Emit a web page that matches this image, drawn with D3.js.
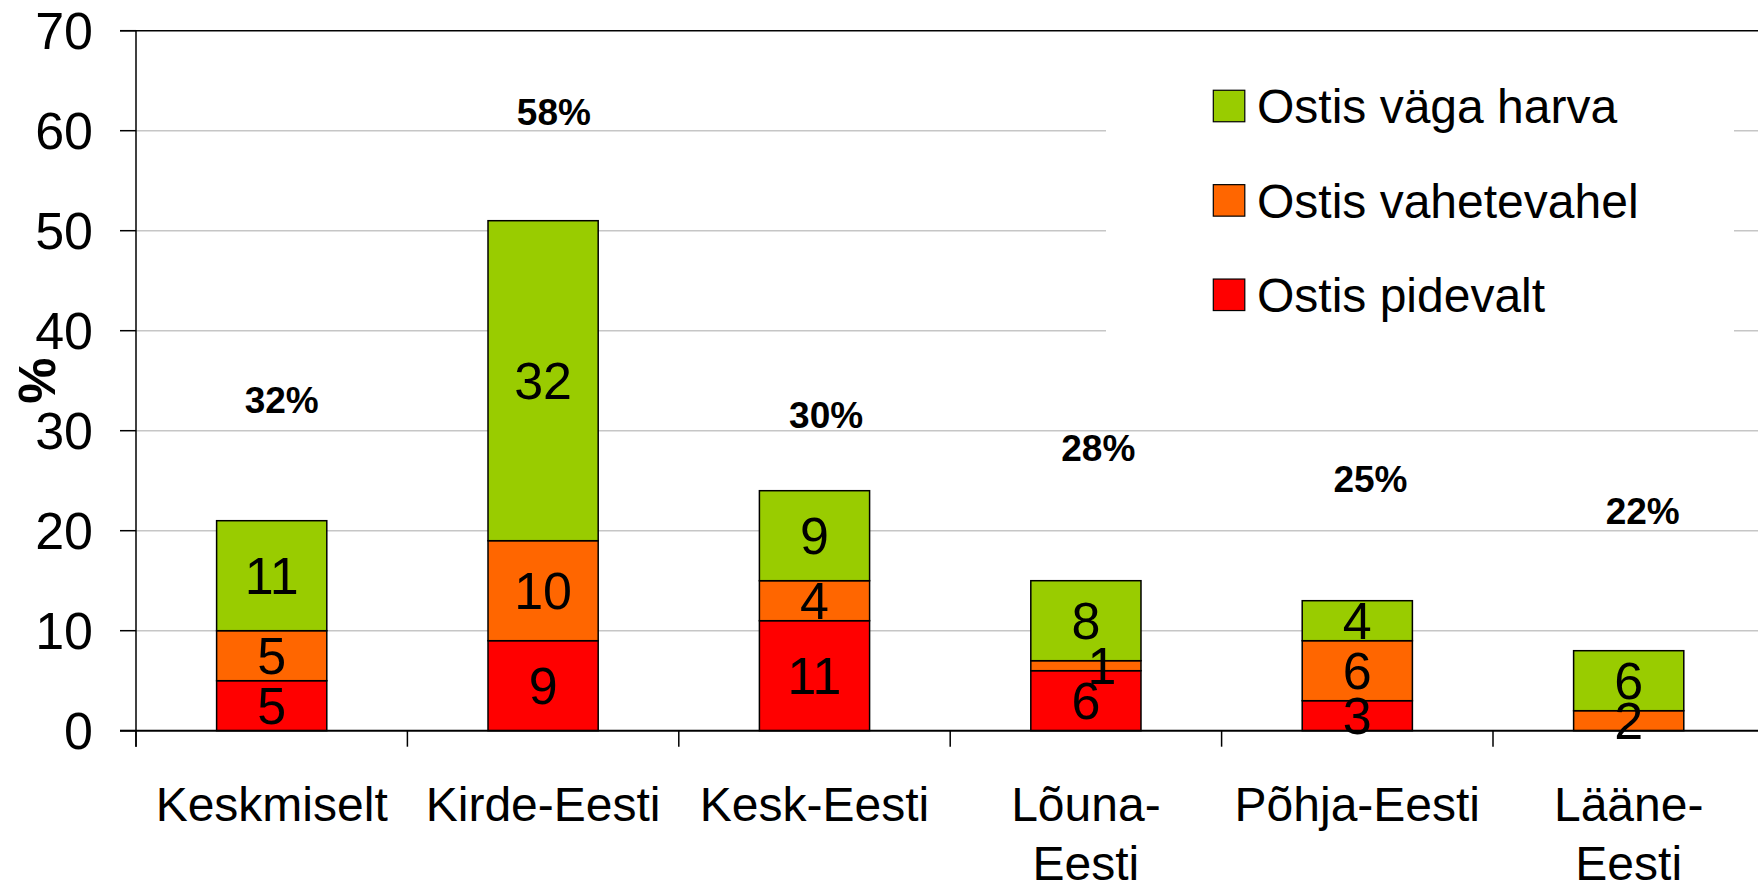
<!DOCTYPE html>
<html>
<head>
<meta charset="utf-8">
<script src="https://cdn.jsdelivr.net/npm/d3@7"></script>
<style>
  html, body { margin: 0; padding: 0; background: #fff; }
  svg { display: block; font-family: "Liberation Sans", Arial, sans-serif; }
</style>
</head>
<body>
<svg id="chart" width="1758" height="884"></svg>
<script>
// ---- data ----
const categories = ["Keskmiselt", "Kirde-Eesti", "Kesk-Eesti", "Lõuna-Eesti", "Põhja-Eesti", "Lääne-Eesti"];
const categoryLabels = [["Keskmiselt"], ["Kirde-Eesti"], ["Kesk-Eesti"], ["Lõuna-", "Eesti"], ["Põhja-Eesti"], ["Lääne-", "Eesti"]];
const seriesNames = ["Ostis pidevalt", "Ostis vahetevahel", "Ostis väga harva"];
const pidevalt   = [5, 9, 11, 6, 3, 0];
const vahetevahel = [5, 10, 4, 1, 6, 2];
const vagaHarva  = [11, 32, 9, 8, 4, 6];
const totalPct   = ["32%", "58%", "30%", "28%", "25%", "22%"];
const totalPctPos = [33.1, 61.9, 31.6, 28.3, 25.2, 21.95]; // label heights in axis units
const yTicks = [0, 10, 20, 30, 40, 50, 60, 70];
const colors = ["#ff0000", "#ff6600", "#99cc00"];

// ---- layout ----
const svg = d3.select("#chart");
const plotLeft = 136, plotTop = 30.7, plotBottom = 730.7, bandStep = 271.4;
const x = d3.scaleBand().domain(categories)
  .range([plotLeft, plotLeft + bandStep * categories.length])
  .paddingInner(0.594).paddingOuter(0.297);
const y = d3.scaleLinear().domain([0, 70]).range([plotBottom, plotTop]);

const rows = categories.map((c, i) => ({cat: c, s0: pidevalt[i], s1: vahetevahel[i], s2: vagaHarva[i]}));
const stacked = d3.stack().keys(["s0", "s1", "s2"])(rows);

// gridlines
svg.append("g").selectAll("line").data(yTicks.filter(t => t > 0 && t < 70)).join("line")
  .attr("x1", plotLeft).attr("x2", 1758)
  .attr("y1", d => y(d)).attr("y2", d => y(d))
  .attr("stroke", "#c6c6c6").attr("stroke-width", 1.5);

// legend background (covers gridlines)
const legX = 1106, legW = 628;
svg.append("rect").attr("x", legX).attr("y", 42).attr("width", legW).attr("height", 318).attr("fill", "#fff");

// top border
svg.append("line").attr("x1", plotLeft - 16).attr("x2", 1758).attr("y1", y(70)).attr("y2", y(70))
  .attr("stroke", "#000").attr("stroke-width", 1.5);

// bars
const segs = svg.append("g");
stacked.forEach((layer, si) => {
  segs.append("g").selectAll("rect").data(layer).join("rect")
    .attr("x", d => x(d.data.cat))
    .attr("width", x.bandwidth())
    .attr("y", d => y(d[1]))
    .attr("height", d => y(d[0]) - y(d[1]))
    .attr("fill", colors[si])
    .attr("stroke", d => (d[1] - d[0]) > 0 ? "#000" : "none")
    .attr("stroke-width", 1.5);
});

// value labels
const valFont = 52;
stacked.forEach((layer) => {
  segs.append("g").selectAll("text").data(layer.filter(d => d[1] - d[0] > 0)).join("text")
    .attr("x", d => x(d.data.cat) + x.bandwidth() / 2 + ((y(d[0]) - y(d[1])) < 15 ? 16 : 0))
    .attr("y", d => (y(d[0]) + y(d[1])) / 2 + valFont * 0.358)
    .attr("text-anchor", "middle")
    .attr("font-size", valFont)
    .attr("fill", "#000")
    .text(d => d[1] - d[0]);
});

// y axis
const yAxis = svg.append("g");
yAxis.append("line").attr("x1", plotLeft).attr("x2", plotLeft).attr("y1", y(70)).attr("y2", plotBottom + 16)
  .attr("stroke", "#000").attr("stroke-width", 1.5);
yAxis.selectAll(".tk").data(yTicks).join("line")
  .attr("x1", plotLeft - 16).attr("x2", plotLeft).attr("y1", d => y(d)).attr("y2", d => y(d))
  .attr("stroke", "#000").attr("stroke-width", 1.5);
yAxis.selectAll("text").data(yTicks).join("text")
  .attr("x", plotLeft - 43).attr("y", d => y(d) + 52 * 0.358)
  .attr("text-anchor", "end").attr("font-size", 52).text(d => d);

// y title
svg.append("text").attr("transform", `translate(${36 + 52 * 0.358},${(y(0) + y(70)) / 2}) rotate(-90)`)
  .attr("text-anchor", "middle").attr("font-size", 52).attr("font-weight", "bold").text("%");

// x axis
const xAxis = svg.append("g");
xAxis.append("line").attr("x1", plotLeft - 16).attr("x2", 1758).attr("y1", plotBottom).attr("y2", plotBottom)
  .attr("stroke", "#000").attr("stroke-width", 2);
const bounds = categories.map(c => x(c) + x.bandwidth() / 2 - x.step() / 2);
xAxis.selectAll(".tk").data(bounds).join("line")
  .attr("x1", d => d).attr("x2", d => d).attr("y1", plotBottom).attr("y2", plotBottom + 16)
  .attr("stroke", "#000").attr("stroke-width", 1.5);
categories.forEach((c, i) => {
  const t = xAxis.append("text").attr("text-anchor", "middle").attr("font-size", 48);
  categoryLabels[i].forEach((line, li) => {
    t.append("tspan").attr("x", x(c) + x.bandwidth() / 2).attr("y", 820.7 + li * 59.5).text(line);
  });
});

// total percentage labels
svg.append("g").selectAll("text").data(categories).join("text")
  .attr("x", (c, i) => x(c) + x.bandwidth() / 2 + 10 + i * 0.8)
  .attr("y", (c, i) => y(totalPctPos[i]) + 37 * 0.358)
  .attr("text-anchor", "middle").attr("font-size", 37).attr("font-weight", "bold")
  .text((c, i) => totalPct[i]);

// legend
const legendItems = [2, 1, 0];
const leg = svg.append("g");
legendItems.forEach((si, k) => {
  const cy = 106 + k * 94.4;
  leg.append("rect").attr("x", 1213.3).attr("y", cy - 15.75).attr("width", 31.5).attr("height", 31.5)
    .attr("fill", colors[si]).attr("stroke", "#000").attr("stroke-width", 1.2);
  leg.append("text").attr("x", 1257).attr("y", cy + 48 * 0.358).attr("font-size", 48).text(seriesNames[si]);
});
</script>
</body>
</html>
